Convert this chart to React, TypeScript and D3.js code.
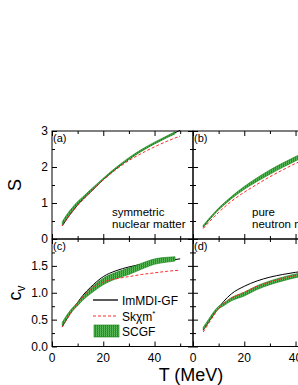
import React, { useEffect, useRef } from 'react';
import * as d3 from 'd3';

// temperatures (MeV)
const temps = [4, 6, 8, 10, 12, 15, 20, 25, 30, 35, 40, 45, 50];
const scgfTemps = [4, 6, 8, 10, 12, 15, 20, 25, 30, 35, 40, 45, 48];

// (a) entropy, symmetric nuclear matter
const sSymImmdi = [0.37, 0.58, 0.77, 0.95, 1.1, 1.3, 1.65, 1.95, 2.22, 2.46, 2.66, 2.85, 3.02];
const sSymSkx = [0.36, 0.57, 0.76, 0.93, 1.08, 1.3, 1.64, 1.93, 2.18, 2.38, 2.56, 2.72, 2.86];
const sSymScgfLo = [0.4, 0.62, 0.8, 0.97, 1.11, 1.32, 1.65, 1.95, 2.21, 2.44, 2.64, 2.82, 2.92];
const sSymScgfHi = [0.48, 0.7, 0.88, 1.04, 1.17, 1.37, 1.69, 1.99, 2.26, 2.49, 2.69, 2.87, 2.98];

// (b) entropy, pure neutron matter
const sNeuImmdi = [0.34, 0.52, 0.68, 0.83, 0.97, 1.15, 1.42, 1.66, 1.87, 2.07, 2.25, 2.42, 2.57];
const sNeuSkx = [0.29, 0.45, 0.6, 0.74, 0.87, 1.05, 1.3, 1.52, 1.73, 1.92, 2.1, 2.26, 2.4];
const sNeuScgfLo = [0.32, 0.5, 0.66, 0.81, 0.94, 1.12, 1.38, 1.6, 1.8, 1.99, 2.17, 2.33, 2.42];
const sNeuScgfHi = [0.38, 0.55, 0.71, 0.86, 0.99, 1.18, 1.46, 1.7, 1.92, 2.11, 2.29, 2.45, 2.54];

// (c) heat capacity, symmetric nuclear matter
const cvSymImmdi = [0.37, 0.53, 0.68, 0.82, 0.95, 1.1, 1.3, 1.41, 1.48, 1.53, 1.57, 1.6, 1.63];
const cvSymSkx = [0.36, 0.52, 0.67, 0.8, 0.92, 1.06, 1.2, 1.26, 1.3, 1.34, 1.37, 1.4, 1.42];
const cvSymScgfLo = [0.38, 0.53, 0.66, 0.76, 0.86, 0.98, 1.15, 1.26, 1.34, 1.44, 1.53, 1.57, 1.59];
const cvSymScgfHi = [0.45, 0.6, 0.72, 0.82, 0.93, 1.08, 1.27, 1.38, 1.46, 1.55, 1.63, 1.66, 1.67];

// (d) heat capacity, pure neutron matter
const cvNeuImmdi = [0.31, 0.45, 0.59, 0.72, 0.84, 0.98, 1.12, 1.22, 1.29, 1.34, 1.38, 1.41, 1.43];
const cvNeuSkx = [0.27, 0.42, 0.57, 0.71, 0.8, 0.9, 1.01, 1.12, 1.2, 1.27, 1.32, 1.36, 1.39];
const cvNeuScgfLo = [0.3, 0.45, 0.59, 0.7, 0.76, 0.85, 0.94, 1.06, 1.15, 1.22, 1.28, 1.32, 1.34];
const cvNeuScgfHi = [0.36, 0.5, 0.64, 0.75, 0.81, 0.91, 1.01, 1.13, 1.22, 1.29, 1.35, 1.39, 1.41];

const xMajor = [0, 20, 40];
const xMinor = [10, 30, 50];
const sMajor = [0, 1, 2, 3];
const sMinor = [0.5, 1.5, 2.5];
const cvMajor = [0, 0.5, 1.0, 1.5];
const cvMinor = [0.25, 0.75, 1.25, 1.75];

const FONT = 'Liberation Sans, Arial, Helvetica, sans-serif';

const App = () => {
  const ref = useRef<SVGSVGElement | null>(null);

  useEffect(() => {
    const svg = d3.select(ref.current);
    svg.selectAll('*').remove();

    const defs = svg.append('defs');
    const pat = defs
      .append('pattern')
      .attr('id', 'grid')
      .attr('patternUnits', 'userSpaceOnUse')
      .attr('width', 2)
      .attr('height', 2);
    pat.append('rect').attr('width', 2).attr('height', 2).attr('fill', '#1f8a1f');
    pat.append('rect').attr('width', 1).attr('height', 2).attr('fill', '#5fbf5f');
    pat.append('rect').attr('width', 2).attr('height', 0.6).attr('fill', '#3aa03a');

    const xLeft = d3.scaleLinear().domain([0, 55]).range([52, 193]);
    const xRight = d3.scaleLinear().domain([0, 55]).range([193, 334]);
    const yTop = d3.scaleLinear().domain([0, 3]).range([239, 131]);
    const yBot = d3.scaleLinear().domain([0, 2]).range([346.5, 239]);

    const panels = [
      { x: xLeft, y: yTop, tag: '(a)', im: sSymImmdi, sk: sSymSkx, lo: sSymScgfLo, hi: sSymScgfHi, top: true, left: true },
      { x: xRight, y: yTop, tag: '(b)', im: sNeuImmdi, sk: sNeuSkx, lo: sNeuScgfLo, hi: sNeuScgfHi, top: true, left: false },
      { x: xLeft, y: yBot, tag: '(c)', im: cvSymImmdi, sk: cvSymSkx, lo: cvSymScgfLo, hi: cvSymScgfHi, top: false, left: true },
      { x: xRight, y: yBot, tag: '(d)', im: cvNeuImmdi, sk: cvNeuSkx, lo: cvNeuScgfLo, hi: cvNeuScgfHi, top: false, left: false },
    ];

    panels.forEach((p) => {
      const g = svg.append('g');
      const [x0, x1] = p.x.range();
      const [y0, y1] = p.y.range();
      const yMaj = p.top ? sMajor : cvMajor;
      const yMin = p.top ? sMinor : cvMinor;

      // curves
      const line = d3
        .line<number>()
        .x((_, i) => p.x(temps[i]))
        .y((d) => p.y(d))
        .curve(d3.curveMonotoneX);
      const band = d3
        .area<number>()
        .x((_, i) => p.x(scgfTemps[i]))
        .y0((d) => p.y(d))
        .y1((_, i) => p.y(p.hi[i]))
        .curve(d3.curveMonotoneX);

      g.append('path').attr('d', line(p.im)).attr('fill', 'none').attr('stroke', '#000').attr('stroke-width', 1);
      g.append('path')
        .attr('d', band(p.lo))
        .attr('fill', 'url(#grid)')
        .attr('stroke', '#137a13')
        .attr('stroke-width', 0.6);
      g.append('path')
        .attr('d', line(p.sk))
        .attr('fill', 'none')
        .attr('stroke', '#ff2a2a')
        .attr('stroke-width', 1)
        .attr('stroke-dasharray', '3,2');

      // ticks, all pointing inward
      const axes: [any, string][] = [
        [d3.axisBottom(p.x).tickValues(xMajor).tickSize(-5), `translate(0,${y0})`],
        [d3.axisBottom(p.x).tickValues(xMinor).tickSize(-3), `translate(0,${y0})`],
        [d3.axisTop(p.x).tickValues(xMajor).tickSize(-5), `translate(0,${y1})`],
        [d3.axisTop(p.x).tickValues(xMinor).tickSize(-3), `translate(0,${y1})`],
        [d3.axisLeft(p.y).tickValues(yMaj).tickSize(-5), `translate(${x0},0)`],
        [d3.axisLeft(p.y).tickValues(yMin).tickSize(-3), `translate(${x0},0)`],
        [d3.axisRight(p.y).tickValues(yMaj).tickSize(-5), `translate(${x1},0)`],
        [d3.axisRight(p.y).tickValues(yMin).tickSize(-3), `translate(${x1},0)`],
      ];
      axes.forEach(([ax, tr]) => {
        const a = g.append('g').attr('transform', tr).call(ax.tickFormat(''));
        a.select('.domain').remove();
        a.selectAll('line').attr('stroke', '#000').attr('stroke-width', 1);
      });

      g.append('rect')
        .attr('x', x0)
        .attr('y', y1)
        .attr('width', x1 - x0)
        .attr('height', y0 - y1)
        .attr('fill', 'none')
        .attr('stroke', '#000')
        .attr('stroke-width', 1);

      // tick labels
      if (!p.top) {
        xMajor.forEach((v) => {
          g.append('text')
            .attr('x', p.x(v))
            .attr('y', y0 + 15)
            .attr('text-anchor', 'middle')
            .attr('font-family', FONT)
            .attr('font-size', 12)
            .text(v);
        });
      }
      if (p.left) {
        yMaj.forEach((v) => {
          g.append('text')
            .attr('x', x0 - 4)
            .attr('y', p.y(v) + 4)
            .attr('text-anchor', 'end')
            .attr('font-family', FONT)
            .attr('font-size', 12)
            .text(p.top ? d3.format('d')(v) : d3.format('.1f')(v));
        });
      }

      g.append('text')
        .attr('x', x0 + 1)
        .attr('y', y1 + 11)
        .attr('font-family', FONT)
        .attr('font-size', 11)
        .text(p.tag);
    });

    const txt = (x: number, y: number, s: string, size = 11.5) =>
      svg
        .append('text')
        .attr('x', x)
        .attr('y', y)
        .attr('font-family', FONT)
        .attr('font-size', size)
        .text(s);

    txt(112, 216, 'symmetric');
    txt(112, 228, 'nuclear matter');
    txt(252, 216, 'pure');
    txt(252, 228, 'neutron matter');

    // legend in (c)
    svg.append('line').attr('x1', 93).attr('x2', 118).attr('y1', 300).attr('y2', 300).attr('stroke', '#000').attr('stroke-width', 1.3);
    svg
      .append('line')
      .attr('x1', 93)
      .attr('x2', 118)
      .attr('y1', 316)
      .attr('y2', 316)
      .attr('stroke', '#ff2a2a')
      .attr('stroke-width', 1)
      .attr('stroke-dasharray', '3,2');
    svg
      .append('rect')
      .attr('x', 94)
      .attr('y', 325)
      .attr('width', 25)
      .attr('height', 12)
      .attr('fill', 'url(#grid)')
      .attr('stroke', '#137a13')
      .attr('stroke-width', 0.6);
    txt(122, 304.5, 'ImMDI-GF', 12);
    const sk = txt(122, 320.5, 'Sk', 12);
    sk.append('tspan').text('χm');
    sk.append('tspan').attr('dy', -5).attr('font-size', 8).text('*');
    txt(122, 335.5, 'SCGF', 12);

    // axis titles
    svg
      .append('text')
      .attr('transform', 'translate(21,185) rotate(-90)')
      .attr('text-anchor', 'middle')
      .attr('font-family', FONT)
      .attr('font-size', 18)
      .text('S');
    const cv = svg
      .append('text')
      .attr('transform', 'translate(21,293) rotate(-90)')
      .attr('text-anchor', 'middle')
      .attr('font-family', FONT)
      .attr('font-size', 18);
    cv.append('tspan').text('c');
    cv.append('tspan').attr('dy', 4).attr('font-size', 12).text('v');

    svg
      .append('text')
      .attr('x', 191)
      .attr('y', 381)
      .attr('text-anchor', 'middle')
      .attr('font-family', FONT)
      .attr('font-size', 18)
      .text('T (MeV)');
  }, []);

  return (
    <svg
      ref={ref}
      width={298}
      height={385}
      style={{ position: 'absolute', left: 0, top: 0, background: '#fff' }}
    />
  );
};

export default App;
